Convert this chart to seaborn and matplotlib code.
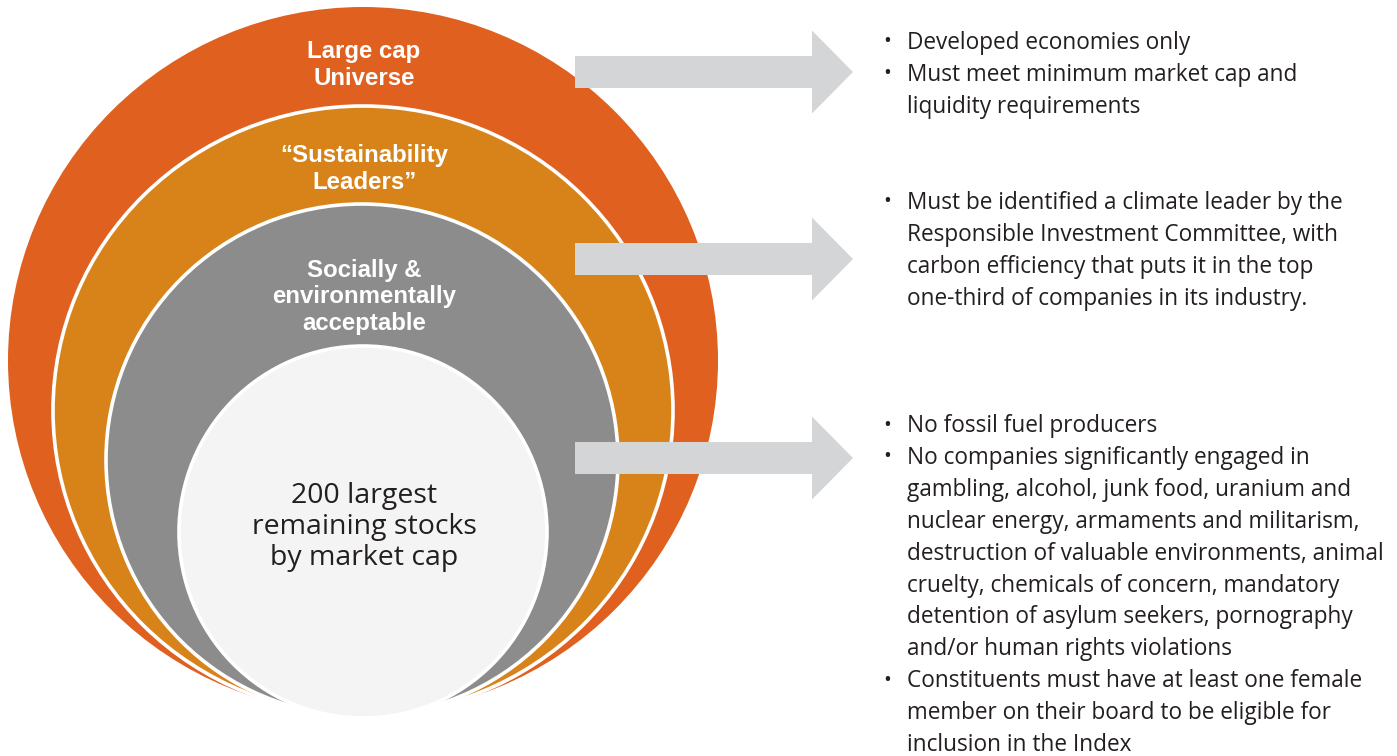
import numpy as np
import pandas as pd
import seaborn as sns
import matplotlib.pyplot as plt
from matplotlib.patches import Ellipse, FancyArrow

# Screening layers, outermost first
layer_labels = ["Large cap\nUniverse",
                "\u201cSustainability\nLeaders\u201d",
                "Socially &\nenvironmentally\nacceptable",
                "200 largest\nremaining stocks\nby market cap"]
layer_colors = ["#E06020", "#D8831A", "#8C8C8C", "#F4F4F4"]

# Criteria text attached to each arrow (already wrapped as in the source)
criteria_1 = [("Developed economies only", True),
              ("Must meet minimum market cap and", True),
              ("liquidity requirements", False)]
criteria_2 = [("Must be identified a climate leader by the", True),
              ("Responsible Investment Committee, with", False),
              ("carbon efficiency that puts it in the top", False),
              ("one-third of companies in its industry.", False)]
criteria_3 = [("No fossil fuel producers", True),
              ("No companies significantly engaged in", True),
              ("gambling, alcohol, junk food, uranium and", False),
              ("nuclear energy, armaments and militarism,", False),
              ("destruction of valuable environments, animal", False),
              ("cruelty, chemicals of concern, mandatory", False),
              ("detention of asylum seekers, pornography", False),
              ("and/or human rights violations", False),
              ("Constituents must have at least one female", True),
              ("member on their board to be eligible for", False),
              ("inclusion in the Index", False)]

sns.set_theme(style="white")
plt.rcParams['font.family'] = ['Open Sans', 'DejaVu Sans']

fig = plt.figure(figsize=(13.97, 7.56), dpi=100)
ax = fig.add_axes([0, 0, 1, 1])
ax.set_xlim(0, 1397)
ax.set_ylim(756, 0)
ax.axis('off')

# layer geometry in pixels: left, right, top, bottom
boxes = [(8, 718, 7, 714), (53, 673, 106, 715), (106, 618, 204, 716), (179, 547, 346, 718)]
label_y = [65, 169, 297, 527]

for i, (l, r, t, b) in enumerate(boxes):
    ec = 'none' if i == 0 else 'white'
    ax.add_patch(Ellipse(((l + r) / 2, (t + b) / 2), r - l, b - t,
                         facecolor=layer_colors[i], edgecolor=ec, lw=2.6, zorder=1 + i))

for i, lab in enumerate(layer_labels):
    if i < 3:
        ax.text(364, label_y[i], lab, ha='center', va='center', color='white',
                fontsize=17.3, fontweight='bold', family=['Liberation Sans', 'DejaVu Sans'],
                linespacing=1.22, zorder=10)
    else:
        ax.text(364, label_y[i], lab, ha='center', va='center', color='#231F20',
                fontsize=20.5, linespacing=1.15, zorder=10)

# arrows
for y in [72, 259, 458]:
    ax.add_patch(FancyArrow(575, y, 278, 0, width=32, head_width=83, head_length=41,
                            length_includes_head=True, color='#D4D5D7', lw=0, zorder=8))

# bullet text
for start, group in [(43, criteria_1), (203, criteria_2), (426, criteria_3)]:
    for k, (line, bullet) in enumerate(group):
        y = start + k * 31.9
        if bullet:
            ax.text(887, y - 1, "\u2022", ha='center', va='center', color='#231F20', fontsize=15)
        ax.text(907, y, line, ha='left', va='center', color='#231F20', fontsize=16.3)

fig.savefig("out.png", dpi=100)
